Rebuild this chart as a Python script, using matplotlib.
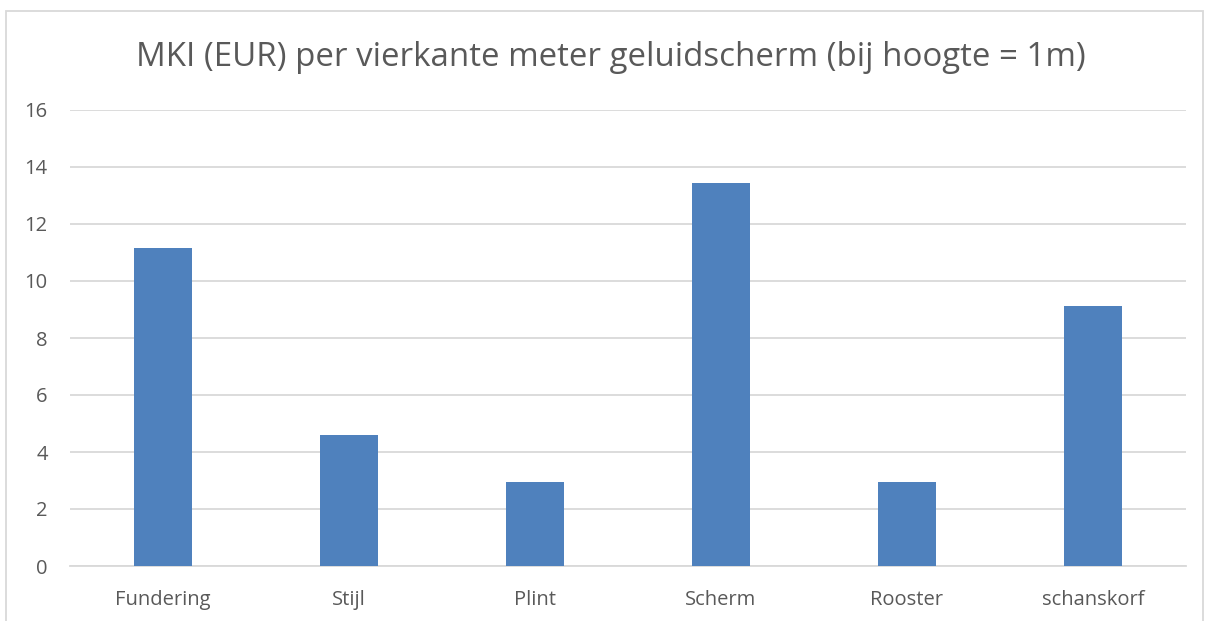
import matplotlib.pyplot as plt
from matplotlib.patches import Rectangle

# data
categories = ['Fundering', 'Stijl', 'Plint', 'Scherm', 'Rooster', 'schanskorf']
mki = [11.15, 4.6, 2.93, 13.45, 2.95, 9.12]
yticks = [0, 2, 4, 6, 8, 10, 12, 14, 16]

txt = '#595959'
grid = '#d9d9d9'
bar_c = '#4f81bd'

plt.rcParams['font.family'] = ['Open Sans', 'DejaVu Sans']

fig = plt.figure(figsize=(12.05, 6.21), dpi=100)
W, H = 1205, 621
ax = fig.add_axes([70 / W, 55 / H, (1186 - 70) / W, (566 - 110) / H])

x = range(len(categories))
ax.bar(x, mki, width=0.315, color=bar_c, zorder=3)

ax.set_xlim(-0.5, len(categories) - 0.5)
ax.set_ylim(0, 16)
ax.set_yticks(yticks)
ax.set_xticks(list(x))
ax.set_xticklabels(categories)
ax.yaxis.grid(True, color=grid, linewidth=1.3, zorder=0)
ax.tick_params(axis='both', length=0, labelsize=14.5, colors=txt)
ax.tick_params(axis='y', pad=16)
ax.tick_params(axis='x', pad=17)
for s in ['top', 'right', 'left']:
    ax.spines[s].set_visible(False)
ax.spines['bottom'].set_color(grid)
ax.spines['bottom'].set_linewidth(1.3)

fig.text(611 / W, 1 - 57 / H, 'MKI (EUR) per vierkante meter geluidscherm (bij hoogte = 1m)',
         ha='center', va='center', fontsize=23.8, color=txt)

# outer chart border
fig.patches.append(Rectangle((6 / W, -0.05), (1203 - 6) / W, 1.05 - 11 / H,
                             transform=fig.transFigure, fill=False,
                             edgecolor=grid, linewidth=1.3))

fig.savefig('out.png', dpi=100)
